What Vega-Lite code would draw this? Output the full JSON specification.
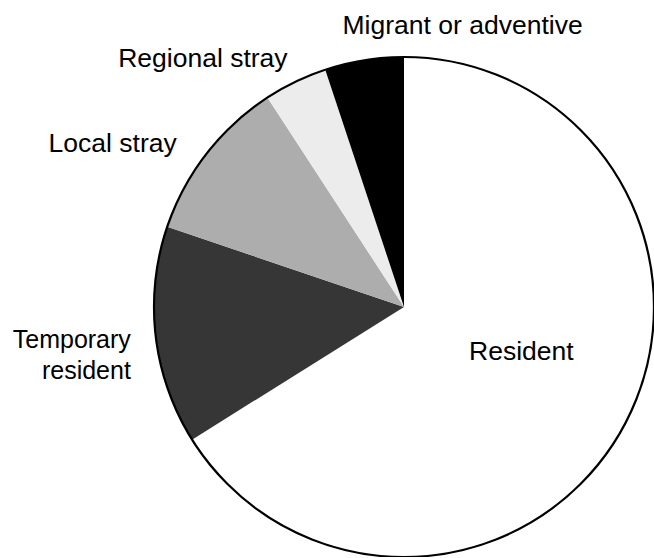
{
  "$schema": "https://vega.github.io/schema/vega-lite/v6.json",
  "width": 500,
  "height": 500,
  "autosize": {"type": "none"},
  "padding": {"left": 154, "top": 57, "right": 0, "bottom": 0},
  "background": "white",
  "config": {"view": {"stroke": null}, "text": {"font": "Liberation Sans", "fontSize": 26.5, "color": "black", "lineBreak": "\n", "lineHeight": 31}},
  "data": {"values": [
    {"category": "Resident", "label": "Resident", "value": 66.1, "rank": 1},
    {"category": "Temporary resident", "label": "Temporary\nresident", "value": 14.1, "rank": 2},
    {"category": "Local stray", "label": "Local stray", "value": 10.6, "rank": 3},
    {"category": "Regional stray", "label": "Regional stray", "value": 4.1, "rank": 4},
    {"category": "Migrant or adventive", "label": "Migrant or adventive", "value": 5.1, "rank": 5}
  ]},
  "layer": [
    {
      "mark": {"type": "arc", "stroke": null},
      "encoding": {
        "theta": {"field": "value", "type": "quantitative", "stack": true},
        "order": {"field": "rank", "type": "quantitative"},
        "color": {"field": "category", "type": "nominal", "legend": null,
          "scale": {"domain": ["Resident", "Temporary resident", "Local stray", "Regional stray", "Migrant or adventive"],
                    "range": ["#ffffff", "#363636", "#adadad", "#ececec", "#000000"]}}
      }
    },
    {
      "data": {"values": [{"value": 100}]},
      "mark": {"type": "arc", "fillOpacity": 0, "stroke": "black", "strokeWidth": 2.2},
      "encoding": {
        "theta": {"field": "value", "type": "quantitative", "stack": true}
      }
    },
    {
      "mark": {"type": "text", "radius": 125, "align": "center", "baseline": "middle", "dx": 8, "dy": -16},
      "encoding": {
        "theta": {"field": "value", "type": "quantitative", "stack": true},
        "order": {"field": "rank", "type": "quantitative"},
        "text": {"condition": {"test": "datum.category === 'Resident'", "field": "label"}, "value": ""}
      }
    },
    {
      "mark": {"type": "text", "radius": 275, "align": "right", "baseline": "middle", "fontSize": 25, "dy": 1},
      "encoding": {
        "theta": {"field": "value", "type": "quantitative", "stack": true},
        "order": {"field": "rank", "type": "quantitative"},
        "text": {"condition": {"test": "datum.category === 'Temporary resident'", "field": "label"}, "value": ""}
      }
    },
    {
      "mark": {"type": "text", "radius": 275, "align": "right", "baseline": "middle", "dx": -10, "dy": 6},
      "encoding": {
        "theta": {"field": "value", "type": "quantitative", "stack": true},
        "order": {"field": "rank", "type": "quantitative"},
        "text": {"condition": {"test": "datum.category === 'Local stray'", "field": "label"}, "value": ""}
      }
    },
    {
      "mark": {"type": "text", "radius": 275, "align": "right", "baseline": "middle", "dx": 3},
      "encoding": {
        "theta": {"field": "value", "type": "quantitative", "stack": true},
        "order": {"field": "rank", "type": "quantitative"},
        "text": {"condition": {"test": "datum.category === 'Regional stray'", "field": "label"}, "value": ""}
      }
    },
    {
      "mark": {"type": "text", "radius": 285, "align": "left", "baseline": "middle", "dx": -16},
      "encoding": {
        "theta": {"field": "value", "type": "quantitative", "stack": true},
        "order": {"field": "rank", "type": "quantitative"},
        "text": {"condition": {"test": "datum.category === 'Migrant or adventive'", "field": "label"}, "value": ""}
      }
    }
  ]
}
